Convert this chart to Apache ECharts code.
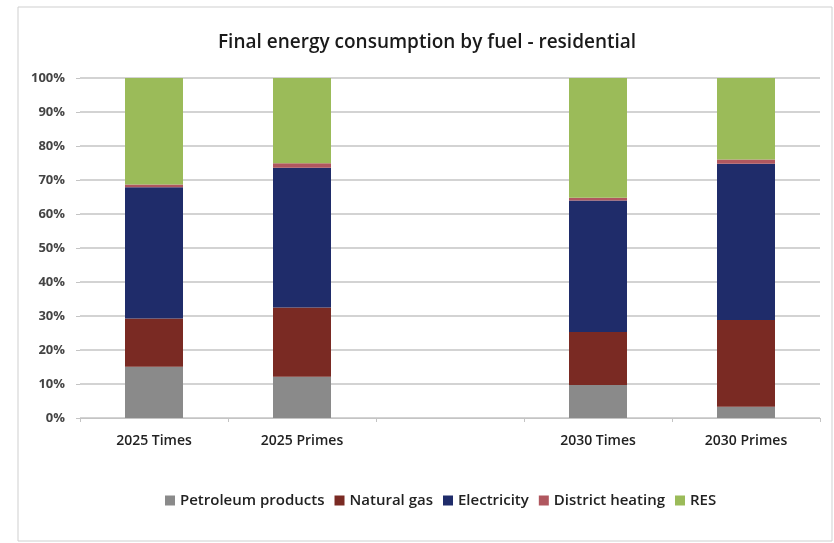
<!DOCTYPE html>
<html>
<head>
<meta charset="utf-8">
<script src="https://cdn.jsdelivr.net/npm/echarts@6/dist/echarts.min.js"></script>
<style>
  html, body { margin: 0; padding: 0; background: #fff; }
  #chart { width: 834px; height: 543px; }
</style>
</head>
<body>
<div id="chart"></div>
<script>
  // categories (empty slot keeps the gap between 2025 and 2030)
  const categories = ["2025 Times", "2025 Primes", "", "2030 Times", "2030 Primes"];
  // shares in %
  const petroleum = [15.1, 12.1, null, 9.7, 3.3];
  const naturalGas = [14.2, 20.4, null, 15.6, 25.5];
  const electricity = [38.6, 41.1, null, 38.7, 46.0];
  const districtHeating = [0.8, 1.3, null, 0.8, 1.2];
  const res = [31.3, 25.1, null, 35.2, 24.0];
  const yTicks = [0, 10, 20, 30, 40, 50, 60, 70, 80, 90, 100];

  const seriesDefs = [
    { name: "Petroleum products", data: petroleum, color: "#8a8a8a" },
    { name: "Natural gas", data: naturalGas, color: "#7a2a23" },
    { name: "Electricity", data: electricity, color: "#1f2c6a" },
    { name: "District heating", data: districtHeating, color: "#b0575f" },
    { name: "RES", data: res, color: "#9bbb59" },
  ];

  let myChart = echarts.init(document.getElementById("chart"));
  let option = {
    backgroundColor: "#fff",
    animation: false,
    textStyle: { fontFamily: "Open Sans" },
    title: {
      text: "Final energy consumption by fuel - residential",
      left: 213,
      top: 28,
      textStyle: { fontFamily: "Open Sans", fontSize: 19, fontWeight: 600, color: "#1a1a1a" },
    },
    graphic: [
      {
        type: "rect",
        shape: { x: 18, y: 7, width: 814, height: 534 },
        style: { fill: "none", stroke: "#cfcfcf", lineWidth: 1 },
        silent: true,
      },
    ],
    legend: {
      top: 488,
      left: 160,
      itemWidth: 10,
      itemHeight: 10,
      itemGap: 10,
      icon: "rect",
      textStyle: { fontFamily: "Open Sans", fontSize: 15, fontWeight: 600, color: "#222" },
      data: seriesDefs.map((s) => s.name),
    },
    grid: { left: 80, right: 14, top: 78, bottom: 125, containLabel: false },
    xAxis: {
      type: "category",
      data: categories,
      axisLine: { show: true, lineStyle: { color: "#c4c4c4", width: 1 } },
      axisTick: { show: true, length: 4, lineStyle: { color: "#c4c4c4" } },
      axisLabel: { fontFamily: "Open Sans", fontSize: 14, fontWeight: 600, color: "#222", margin: 16 },
    },
    yAxis: {
      type: "value",
      min: 0,
      max: 100,
      interval: 10,
      axisLine: { show: false },
      axisTick: { show: true, length: 4, lineStyle: { color: "#c4c4c4" } },
      axisLabel: {
        fontFamily: "Open Sans",
        fontSize: 13,
        fontWeight: 700,
        color: "#444",
        margin: 15,
        formatter: (v) => (yTicks.includes(v) ? v + "%" : ""),
      },
      splitLine: { lineStyle: { color: "#d3d3d3", width: 2 } },
    },
    series: seriesDefs.map((s) => ({
      name: s.name,
      type: "bar",
      stack: "total",
      data: s.data,
      barWidth: 58,
      itemStyle: { color: s.color },
    })),
  };
  myChart.setOption(option);
</script>
</body>
</html>
